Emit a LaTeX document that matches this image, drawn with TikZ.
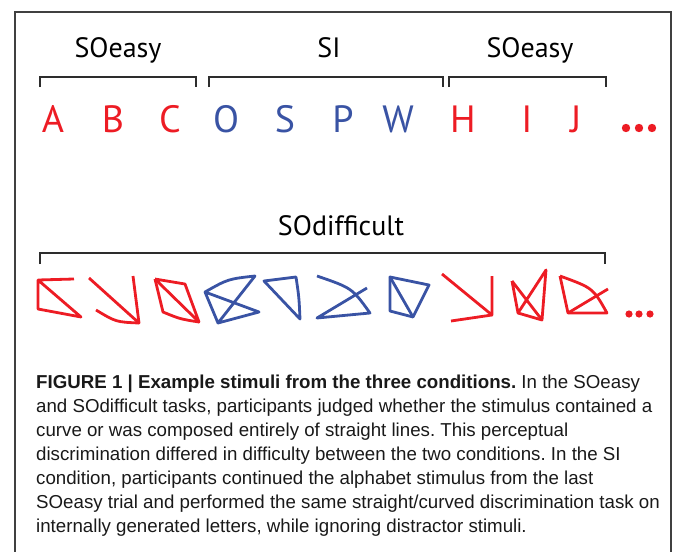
\documentclass[tikz,border=0pt]{standalone}
\usepackage{fontspec}
\setmainfont{Liberation Sans}
\newfontfamily\lblfont{PT Sans}
\newfontfamily\capfont{Liberation Sans}
\definecolor{stimred}{RGB}{237,28,36}
\definecolor{stimblue}{RGB}{57,83,164}
\definecolor{brk}{RGB}{45,45,45}
\frenchspacing

\begin{document}
\begin{tikzpicture}[x=1pt,y=-1pt,
        cond/.style={font=\lblfont\fontsize{28}{28}\selectfont,anchor=base,inner sep=0},
        letter/.style={font=\lblfont\fontsize{38}{38}\selectfont,anchor=base,inner sep=0},
        brace/.style={draw=brk,line width=2pt},
        stim/.style={line width=2.8pt,line join=round}]
        \useasboundingbox (0,0) rectangle (673,552);
        \draw[black!75,line width=1.2pt] (15,552) -- (15,12) -- (671,12) -- (671,552);

        \node[cond] (easyA) at (118,57) {SOeasy};
        \node[cond] (si) at (329,57) {SI};
        \node[cond] (easyB) at (530,57) {SOeasy};
        \node[cond] (diff) at (341,235) {SOdifficult};

        \draw[brace] (40,87) -- (40,77) -- (196,77) -- (196,87);
        \draw[brace] (209,87) -- (209,77) -- (443,77) -- (443,87);
        \draw[brace] (449,87) -- (449,77) -- (606,77) -- (606,87);
        \draw[brace] (40,264) -- (40,253) -- (605,253) -- (605,264);

        \foreach \x/\l/\c in {53/A/stimred,113/B/stimred,170/C/stimred,226/O/stimblue,
                285/S/stimblue,343/P/stimblue,398/W/stimblue,463/H/stimred,527/I/stimred,576/J/stimred}
            \node[letter,text=\c] (let\l) at (\x,132) {\l};
        \foreach \x in {626,639,652}
            \fill[stimred] (\x,128) circle (4.2);

        \begin{scope}[stim,stimred]
            \draw (74,279) -- (38,280) -- (38,309) -- (81,317) -- (38,280);
            \draw (89,278) -- (139,323) -- (133,276);
            \draw (96,310) .. controls (116,322) .. (139,323);
            \draw (155,279) -- (185,284) -- (199,322) -- (155,279);
            \draw (155,279) -- (163,312) .. controls (180,319) .. (199,322);
        \end{scope}
        \begin{scope}[stim,stimblue]
            \draw (205,292) .. controls (228,279) .. (255,276) -- (218,323) -- (205,292) -- (259,312) -- (218,323);
            \draw (264,281) -- (296,277) .. controls (299,297) .. (300,319) -- cycle;
            \draw (317,276) .. controls (352,288) .. (370,313) -- (317,318) -- (367,288);
            \draw (390,277) -- (429,285) -- (413,317) -- (390,311) -- cycle;
            \draw (390,277) -- (413,317);
        \end{scope}
        \begin{scope}[stim,stimred]
            \draw (442,274) -- (492,315) -- (492,276);
            \draw (451,321) -- (492,315);
            \draw (512,281) -- (518,313) -- (546,270) -- (542,320) -- (512,281);
            \draw (518,313) -- (542,320);
            \draw (560,276) .. controls (593,288) .. (607,313) -- (568,313) -- (560,276);
            \draw (568,313) -- (608,289);
        \end{scope}
        \foreach \x in {629,639,650}
            \fill[stimred] (\x,314) circle (3.6);

        \node[anchor=north west,inner sep=0,align=left,text=black!90,
            font=\capfont\fontsize{18.7}{24}\selectfont] (caption) at (36,375)
            {\textbf{FIGURE 1 | Example stimuli from the three conditions.} In the SOeasy\\
            and SOdifficult tasks, participants judged whether the stimulus contained a\\
            curve or was composed entirely of straight lines. This perceptual\\
            discrimination differed in difficulty between the two conditions. In the SI\\
            condition, participants continued the alphabet stimulus from the last\\
            SOeasy trial and performed the same straight/curved discrimination task on\\
            internally generated letters, while ignoring distractor stimuli.};
\end{tikzpicture}
\end{document}
